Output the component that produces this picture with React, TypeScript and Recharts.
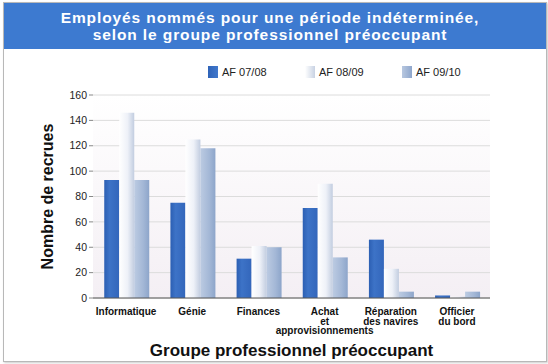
import { BarChart, Bar, XAxis, YAxis, CartesianGrid } from 'recharts';

const categories = ['Informatique', 'Génie', 'Finances', 'Achat\net\napprovisionnements', 'Réparation\ndes navires', 'Officier\ndu bord'];
const af0708 = [93, 75, 31, 71, 46, 2];
const af0809 = [146, 125, 41, 90, 23, 1];
const af0910 = [93, 118, 40, 32, 5, 5];
const yTicks = [0, 20, 40, 60, 80, 100, 120, 140, 160];

const SERIES = [
  { key: 'a', name: 'AF 07/08', fill: 'url(#gBlue)', swatch: 'linear-gradient(90deg,#2f63b8,#4078cc)' },
  { key: 'b', name: 'AF 08/09', fill: 'url(#gLight)', swatch: 'linear-gradient(90deg,#ffffff,#c8d2e3)' },
  { key: 'c', name: 'AF 09/10', fill: 'url(#gGrey)', swatch: 'linear-gradient(90deg,#b8c8e0,#8ea6cc)' },
];

const data = categories.map((c, i) => ({ name: c, a: af0708[i], b: af0809[i], c: af0910[i] }));

const FONT = '"Liberation Sans", Arial, sans-serif';

function CatTick({ x, y, payload }: any) {
  const lines = String(payload.value).split('\n');
  return (
    <text x={x} y={y + 9} textAnchor="middle" fontFamily={FONT} fontSize={10} fontWeight="bold" fill="#111">
      {lines.map((l, i) => (
        <tspan key={i} x={x} dy={i === 0 ? 0 : 9.5}>{l}</tspan>
      ))}
    </text>
  );
}

function LegendBox() {
  return (
    <div style={{ position: 'absolute', top: 66, left: 0, width: 548, height: 14, fontFamily: FONT, fontSize: 11, color: '#222' }}>
      {SERIES.map((s, i) => (
        <div key={s.key} style={{ position: 'absolute', left: 208 + i * 97, top: 0, display: 'flex', alignItems: 'center' }}>
          <div style={{ width: 10, height: 12, background: s.swatch, marginRight: 4 }} />
          <span>{s.name}</span>
        </div>
      ))}
    </div>
  );
}

export default function App() {
  return (
    <div style={{ position: 'absolute', left: 0, top: 0, width: 548, height: 364, background: '#fff', overflow: 'hidden' }}>
      <div style={{ position: 'absolute', left: 3, top: 2, width: 542, height: 358, border: '1px solid #b8b8b8', boxShadow: '1px 1px 2px #ccc' }} />
      <div style={{ position: 'absolute', left: 4, top: 3, width: 542, height: 46, background: '#3d7ad0', color: '#fff', fontFamily: FONT, fontWeight: 'bold', fontSize: 15.5, lineHeight: '17px', textAlign: 'center', paddingTop: 6, paddingRight: 10, boxSizing: 'border-box', letterSpacing: 0.9 }}>
        Employés nommés pour une période indéterminée,<br />selon le groupe professionnel préoccupant
      </div>
      <LegendBox />
      <div style={{ position: 'absolute', left: 0, top: 0 }}>
        <BarChart width={548} height={364} data={data} margin={{ top: 95, right: 58, bottom: 36, left: 60 }} barGap={0} barCategoryGap="17%">
          <defs>
            <linearGradient id="gBlue" x1="0" y1="0" x2="1" y2="0">
              <stop offset="0%" stopColor="#2c5fb3" />
              <stop offset="35%" stopColor="#3d73c7" />
              <stop offset="100%" stopColor="#3366bb" />
            </linearGradient>
            <linearGradient id="gLight" x1="0" y1="0" x2="1" y2="0">
              <stop offset="0%" stopColor="#ffffff" />
              <stop offset="55%" stopColor="#eef1f8" />
              <stop offset="100%" stopColor="#c2cde0" />
            </linearGradient>
            <linearGradient id="gGrey" x1="0" y1="0" x2="1" y2="0">
              <stop offset="0%" stopColor="#bccbe2" />
              <stop offset="60%" stopColor="#a3b7d6" />
              <stop offset="100%" stopColor="#8da5ca" />
            </linearGradient>
            <linearGradient id="gBg" x1="0" y1="0" x2="0" y2="1">
              <stop offset="0%" stopColor="#ffffff" />
              <stop offset="100%" stopColor="#f4eff4" />
            </linearGradient>
          </defs>
          <CartesianGrid vertical={false} stroke="#dcdcdc" fill="url(#gBg)" />
          <XAxis
            dataKey="name"
            interval={0}
            height={30}
            tick={<CatTick />}
            tickLine={false}
            axisLine={{ stroke: '#555' }}
            label={{ value: 'Groupe professionnel préoccupant', position: 'insideBottom', offset: -28, style: { fontFamily: FONT, fontSize: 17, fontWeight: 'bold', fill: '#111' } }}
          />
          <YAxis
            width={33}
            domain={[0, 160]}
            ticks={yTicks}
            tick={{ fontFamily: FONT, fontSize: 10.5, fill: '#222' }}
            tickSize={4}
            tickLine={{ stroke: '#888' }}
            axisLine={false}
            label={{ value: 'Nombre de recrues', angle: -90, position: 'insideLeft', offset: -13, style: { textAnchor: 'middle', fontFamily: FONT, fontSize: 16, fontWeight: 'bold', fill: '#111' } }}
          />
          {SERIES.map(s => (
            <Bar key={s.key} dataKey={s.key} name={s.name} fill={s.fill} isAnimationActive={false} />
          ))}
        </BarChart>
      </div>
    </div>
  );
}
